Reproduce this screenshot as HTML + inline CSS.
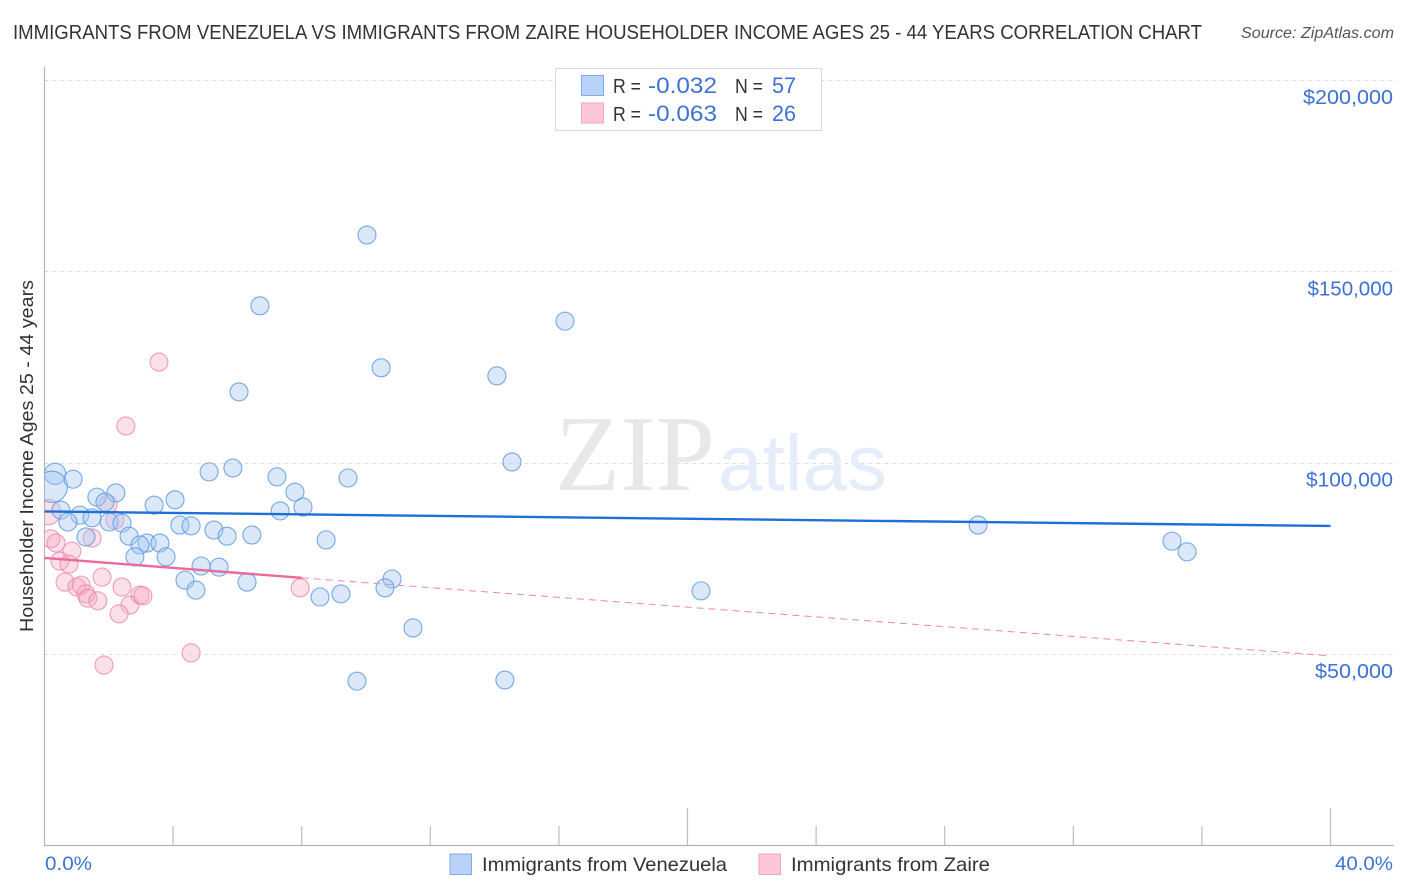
<!DOCTYPE html>
<html lang="en">
<head>
<meta charset="utf-8">
<title>Correlation chart</title>
<style>
html,body{margin:0;padding:0;background:#fff;width:1406px;height:892px;overflow:hidden}
svg{display:block;font-family:"Liberation Sans",sans-serif}
</style>
</head>
<body>
<svg id="chart" xmlns="http://www.w3.org/2000/svg" width="1406" height="892" viewBox="0 0 1406 892">
<defs><clipPath id="plot-clip"><rect x="44.5" y="60" width="1350" height="785"/></clipPath></defs>
<rect width="1406" height="892" fill="#fff"/>
<text x="13" y="39" font-size="20" fill="#333" textLength="1189" lengthAdjust="spacingAndGlyphs">IMMIGRANTS FROM VENEZUELA VS IMMIGRANTS FROM ZAIRE HOUSEHOLDER INCOME AGES 25 - 44 YEARS CORRELATION CHART</text>
<text x="1241" y="38" font-size="15.5" font-style="italic" fill="#555" textLength="153" lengthAdjust="spacingAndGlyphs">Source: ZipAtlas.com</text>
<g id="grid"></g>
<text x="555" y="490" font-family="'Liberation Serif',serif" font-size="108" fill="#e8e8e8" textLength="160" lengthAdjust="spacingAndGlyphs">ZIP</text>
<text x="718" y="490" font-size="79" fill="#e4edf9" textLength="169" lengthAdjust="spacingAndGlyphs">atlas</text>
<g id="axes"></g>
<g id="points" clip-path="url(#plot-clip)"></g>
<g id="trends"></g>
<text transform="translate(33,456) rotate(-90)" text-anchor="middle" font-size="18.5" fill="#333" textLength="352" lengthAdjust="spacingAndGlyphs">Householder Income Ages 25 - 44 years</text>
<g id="tick-labels"></g>
<g>
<rect x="555.5" y="68.5" width="266" height="62" fill="#fff" stroke="#d9d9d9"/>
<rect x="581.5" y="75.5" width="22" height="20" fill="#b8d3f7" stroke="#7fabe6"/>
<rect x="581.5" y="103" width="22" height="20" fill="#fcc8d9" stroke="#f4a5bf"/>
<text x="613" y="93" font-size="20" fill="#333" textLength="28" lengthAdjust="spacingAndGlyphs">R =</text>
<text x="648" y="93" font-size="22.5" fill="#3d72d4" textLength="69" lengthAdjust="spacingAndGlyphs">-0.032</text>
<text x="735" y="93" font-size="20" fill="#333" textLength="28" lengthAdjust="spacingAndGlyphs">N =</text>
<text x="772" y="93" font-size="22" fill="#3d72d4" textLength="24" lengthAdjust="spacingAndGlyphs">57</text>
<text x="613" y="121" font-size="20" fill="#333" textLength="28" lengthAdjust="spacingAndGlyphs">R =</text>
<text x="648" y="121" font-size="22.5" fill="#3d72d4" textLength="69" lengthAdjust="spacingAndGlyphs">-0.063</text>
<text x="735" y="121" font-size="20" fill="#333" textLength="28" lengthAdjust="spacingAndGlyphs">N =</text>
<text x="772" y="121" font-size="22" fill="#3d72d4" textLength="24" lengthAdjust="spacingAndGlyphs">26</text>
</g>
<g>
<rect x="450" y="854" width="21.5" height="20.5" fill="#b8d3f7" stroke="#7fabe6"/>
<text x="482" y="871" font-size="19.5" fill="#333" textLength="245" lengthAdjust="spacingAndGlyphs">Immigrants from Venezuela</text>
<rect x="759" y="854" width="21.5" height="20.5" fill="#fcc8d9" stroke="#f4a5bf"/>
<text x="791" y="871" font-size="19.5" fill="#333" textLength="199" lengthAdjust="spacingAndGlyphs">Immigrants from Zaire</text>
</g>
</svg>
<script>
const blueX = [10.03,6.70,16.19,10.47,14.07,6.05,14.54,5.86,5.12,7.23,9.44,0.33,0.23,0.89,7.79,2.22,1.63,4.06,1.88,3.41,0.51,8.04,7.33,1.10,1.48,0.73,2.01,2.41,4.21,4.56,29.04,5.27,5.68,6.45,2.63,1.29,8.76,3.19,2.97,3.59,35.07,35.54,2.81,3.78,4.87,5.43,4.37,10.81,6.30,10.59,4.71,20.42,9.22,8.57,11.46,9.72,14.32];
const blueY = [159500,141000,137000,124800,122700,118500,100200,98600,97600,96300,96000,97100,93700,95700,92300,92100,91000,90300,89700,88900,87600,88400,87400,86300,85600,84500,84500,84200,83700,83500,83700,82400,80800,81100,80800,80600,79800,79000,78500,79000,79500,76700,75400,75400,73000,72700,69300,69600,68800,67300,66700,66500,65700,64900,56800,42900,43200];
const blueWeight = [1,1,1,1,1,1,1,1,1,1,1,1.4,3,1,1,1,1,1,1,1,1,1,1,1,1,1,1,1,1,1,1,1,1,1,1,1,1,1,1,1,1,1,1,1,1,1,1,1,1,1,1,1,1,1,1,1,1];
const pinkX = [0.11,1.98,2.19,1.48,0.20,0.36,0.85,0.48,0.76,0.64,1.01,1.14,1.29,1.35,1.66,1.79,2.41,2.66,2.32,2.97,3.06,4.56,1.85,7.95,3.56,2.53];
const pinkY = [87100,89200,85000,80300,80100,79000,76900,74300,73500,68800,67500,68000,65700,64600,63900,70100,67500,62800,60500,65400,65200,50300,47100,67300,126300,109600];
const pinkWeight = [2,1,1,1,1,1,1,1,1,1,1,1,1,1,1,1,1,1,1,1,1,1,1,1,1,1];
const blueTrendX = [0,40];
const blueTrendY = [87250,83460];
const pinkTrendX = [0,8];
const pinkTrendY = [75100,69900];
const pinkDashX = [8,40];
const pinkDashY = [69900,49500];
const yTickValues = [50000,100000,150000,200000];
const yTickLabels = ["$50,000","$100,000","$150,000","$200,000"];
const xTickValues = [0,4,8,12,16,20,24,28,32,36,40];
const xEndValues = [0,40];
const xEndLabels = ["0.0%","40.0%"];

const NS = "http://www.w3.org/2000/svg";
function xScale(p){ return 44.5 + p * 32.15; }
function yScale(v){ return 654 - (v - 50000) * 191.3 / 50000; }
function make(tag, attrs, parent){
  const el = document.createElementNS(NS, tag);
  for (const k in attrs) el.setAttribute(k, attrs[k]);
  parent.appendChild(el);
  return el;
}
function labelWidth(text){
  if (text.indexOf("$50") === 0) return 78;
  if (text.indexOf("$100") === 0) return 87;
  if (text.indexOf("$150") === 0) return 85.5;
  return 90;
}
const grid = document.getElementById("grid");
const axes = document.getElementById("axes");
const pointsG = document.getElementById("points");
const trends = document.getElementById("trends");
const labels = document.getElementById("tick-labels");

yTickValues.forEach(function(v, i){
  const y = Math.round(yScale(v)) + 0.5;
  const line = make("line", {x1:44.5, x2:1394, y1:y, y2:y, stroke:"#dcdcdc", "stroke-dasharray":"4 4"}, grid);
  
  
  const t = make("text", {x:1393, y:yScale(v) + 24, "text-anchor":"end", "font-size":20, fill:"#3d72d4"}, labels);
  t.textContent = yTickLabels[i];
  t.setAttribute('textLength', labelWidth(yTickLabels[i]));
  t.setAttribute('lengthAdjust', 'spacingAndGlyphs');
  
  
});

const yAxis = make("line", {x1:44.5, x2:44.5, y1:67, y2:846, stroke:"#b3b3b3", "stroke-width":1.2}, axes);


const xAxis = make("line", {x1:44, x2:1394, y1:845.5, y2:845.5, stroke:"#b3b3b3", "stroke-width":1.2}, axes);


xTickValues.forEach(function(p){
  if (p === 0) return;
  const x = xScale(p);
  const top = (p % 20 === 0) ? 808 : 826;
  const tick = make("line", {x1:x, x2:x, y1:top, y2:845, stroke:"#bdbdbd", "stroke-width":1.2}, axes);
  
  
});
xEndValues.forEach(function(p, i){
  const t = make("text", {x: i === 0 ? xScale(p) + 0.5 : 1393, y:870, "text-anchor": i === 0 ? "start" : "end", "font-size":19, fill:"#3d72d4"}, labels);
  t.textContent = xEndLabels[i];
  t.setAttribute('textLength', i === 0 ? 47 : 58);
  t.setAttribute('lengthAdjust', 'spacingAndGlyphs');
  
  
});

function radius(w){ return 9 * Math.sqrt(w); }
pinkX.forEach(function(p, i){
  const c = make("circle", {cx:xScale(p), cy:yScale(pinkY[i]), r:radius(pinkWeight[i]), fill:"#f7a8c2", "fill-opacity":0.36, stroke:"#ee86a9", "stroke-opacity":0.8, "stroke-width":1.1}, pointsG);
  
  
});
blueX.forEach(function(p, i){
  const c = make("circle", {cx:xScale(p), cy:yScale(blueY[i]), r:radius(blueWeight[i]), fill:"#a6c8f2", "fill-opacity":0.42, stroke:"#5f9be0", "stroke-opacity":0.85, "stroke-width":1.1}, pointsG);
  
  
});

const blueLine = make("line", {x1:xScale(blueTrendX[0]), y1:yScale(blueTrendY[0]), x2:xScale(blueTrendX[1]), y2:yScale(blueTrendY[1]), stroke:"#1f6fd8", "stroke-width":2.4}, trends);


const pinkLine = make("line", {x1:xScale(pinkTrendX[0]), y1:yScale(pinkTrendY[0]), x2:xScale(pinkTrendX[1]), y2:yScale(pinkTrendY[1]), stroke:"#ea6a9b", "stroke-width":2.4}, trends);


const pinkDash = make("line", {x1:xScale(pinkDashX[0]), y1:yScale(pinkDashY[0]), x2:xScale(pinkDashX[1]), y2:yScale(pinkDashY[1]), stroke:"#ee86a9", "stroke-width":1, "stroke-dasharray":"7 5"}, trends);


</script>
</body>
</html>
